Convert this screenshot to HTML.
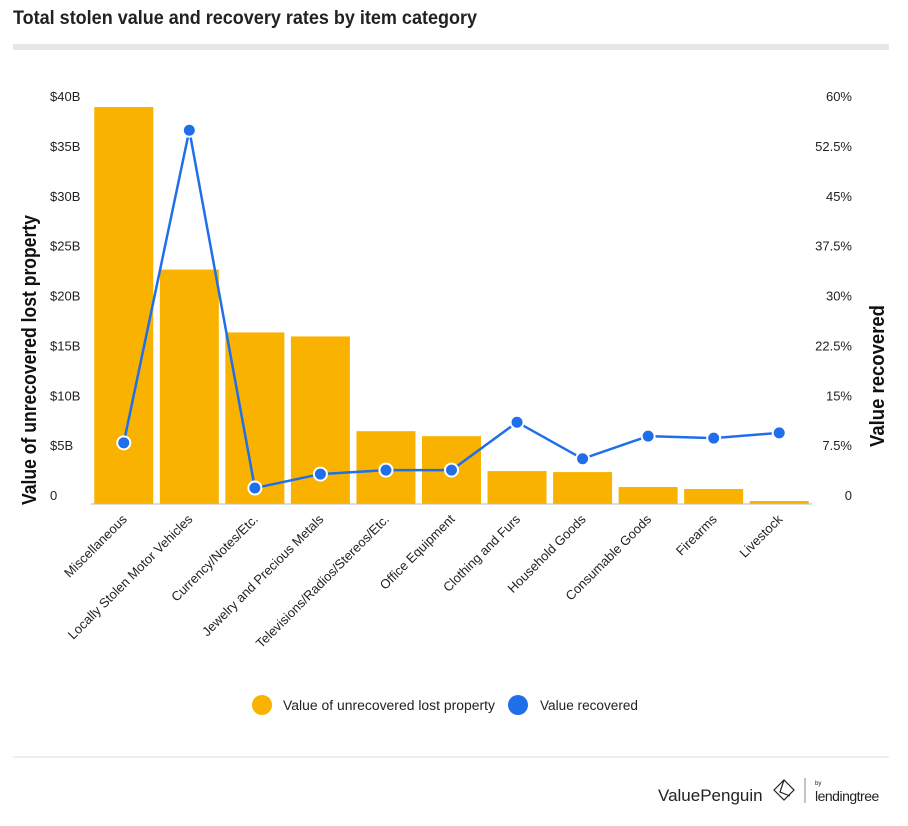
<!DOCTYPE html>
<html><head><meta charset="utf-8"><style>
body{margin:0;background:#fff;font-family:"Liberation Sans",sans-serif;}
svg text{font-family:"Liberation Sans",sans-serif;}
</style></head><body>
<svg id="c" width="908" height="821" xmlns="http://www.w3.org/2000/svg">
<text x="13" y="24" font-size="19" font-weight="bold" fill="#222" textLength="464" lengthAdjust="spacingAndGlyphs">Total stolen value and recovery rates by item category</text>
<rect x="13" y="44" width="876" height="6" fill="#e6e6e6"/>
<text transform="translate(36,360) rotate(-90)" text-anchor="middle" font-size="20" font-weight="bold" fill="#111" textLength="290" lengthAdjust="spacingAndGlyphs">Value of unrecovered lost property</text>
<text transform="translate(884,376) rotate(-90)" text-anchor="middle" font-size="20" font-weight="bold" fill="#111" textLength="142" lengthAdjust="spacingAndGlyphs">Value recovered</text>
<g id="bars"></g><g id="line"></g><g id="axes"></g>
<line x1="91" y1="504" x2="812" y2="504" stroke="#bbb" stroke-width="1"/>
<g>
<circle cx="262" cy="705" r="10" fill="#f9b200"/>
<text x="283" y="710" font-size="13.5" fill="#222" textLength="212" lengthAdjust="spacingAndGlyphs">Value of unrecovered lost property</text>
<circle cx="518" cy="705" r="10" fill="#1f6feb"/>
<text x="540" y="710" font-size="13.5" fill="#222" textLength="98" lengthAdjust="spacingAndGlyphs">Value recovered</text>
</g>
<line x1="13" y1="757" x2="889" y2="757" stroke="#ddd"/>
<text x="658" y="801" font-size="17" fill="#222">ValuePenguin</text>
<g fill="none" stroke="#222" stroke-width="1.2"><path d="M774 790 L784 780 L794 790 L784 800 Z M784 780 L780 792 L790 796"/></g>
<line x1="805" y1="778" x2="805" y2="803" stroke="#888"/>
<text x="815" y="785" font-size="6" fill="#222">by</text>
<text x="815" y="801" font-size="14" fill="#222" letter-spacing="-0.5">lendingtree</text>
</svg>
<script>
const categories=["Miscellaneous","Locally Stolen Motor Vehicles","Currency/Notes/Etc.","Jewelry and Precious Metals","Televisions/Radios/Stereos/Etc.","Office Equipment","Clothing and Furs","Household Goods","Consumable Goods","Firearms","Livestock"];
const unrecovered=[39.8,23.5,17.2,16.8,7.3,6.8,3.3,3.2,1.7,1.5,0.3];
const recovered=[9.2,56.2,2.4,4.5,5.1,5.1,12.3,6.8,10.2,9.9,10.7];
const leftTicks=["0","$5B","$10B","$15B","$20B","$25B","$30B","$35B","$40B"];
const rightTicks=["0","7.5%","15%","22.5%","30%","37.5%","45%","52.5%","60%"];
const NS="http://www.w3.org/2000/svg";
const x0=91,x1=812,yBase=504,yTop=105;
const step=(x1-x0)/categories.length;
const xc=i=>x0+step*(i+0.5);
const yL=v=>yBase-(v/40)*(yBase-yTop);
const yR=v=>yBase-(v/60)*(yBase-yTop);
function mk(t,a,p){const e=document.createElementNS(NS,t);for(const k in a)e.setAttribute(k,a[k]);p.appendChild(e);return e;}
const bars=document.getElementById('bars'),line=document.getElementById('line'),axes=document.getElementById('axes');
unrecovered.forEach((v,i)=>{
 const r=mk('rect',{x:xc(i)-29.5,y:yL(v),width:59,height:yBase-yL(v),fill:'#f9b200'},bars);
 
 
});
const pts=recovered.map((v,i)=>xc(i)+','+yR(v)).join(' ');
const pl=mk('polyline',{points:pts,fill:'none',stroke:'#1f6feb','stroke-width':2.5},line);


recovered.forEach((v,i)=>{
 const c=mk('circle',{cx:xc(i),cy:yR(v),r:6.5,fill:'#1f6feb',stroke:'#fff','stroke-width':2},line);
 
 
});
leftTicks.forEach((t,i)=>{
 const e=mk('text',{x:50,y:yL(i*5)-4,'font-size':13,fill:'#222'},axes);e.textContent=t;
 
 
});
rightTicks.forEach((t,i)=>{
 const e=mk('text',{x:852,y:yR(i*7.5)-4,'font-size':13,fill:'#222','text-anchor':'end'},axes);e.textContent=t;
 
 
});
categories.forEach((t,i)=>{
 const x=xc(i)+4,y=520;
 const e=mk('text',{x:x,y:y,'font-size':13,fill:'#222','text-anchor':'end',transform:`rotate(-45 ${x} ${y})`},axes);e.textContent=t;
 
 
});
</script>
</body></html>
